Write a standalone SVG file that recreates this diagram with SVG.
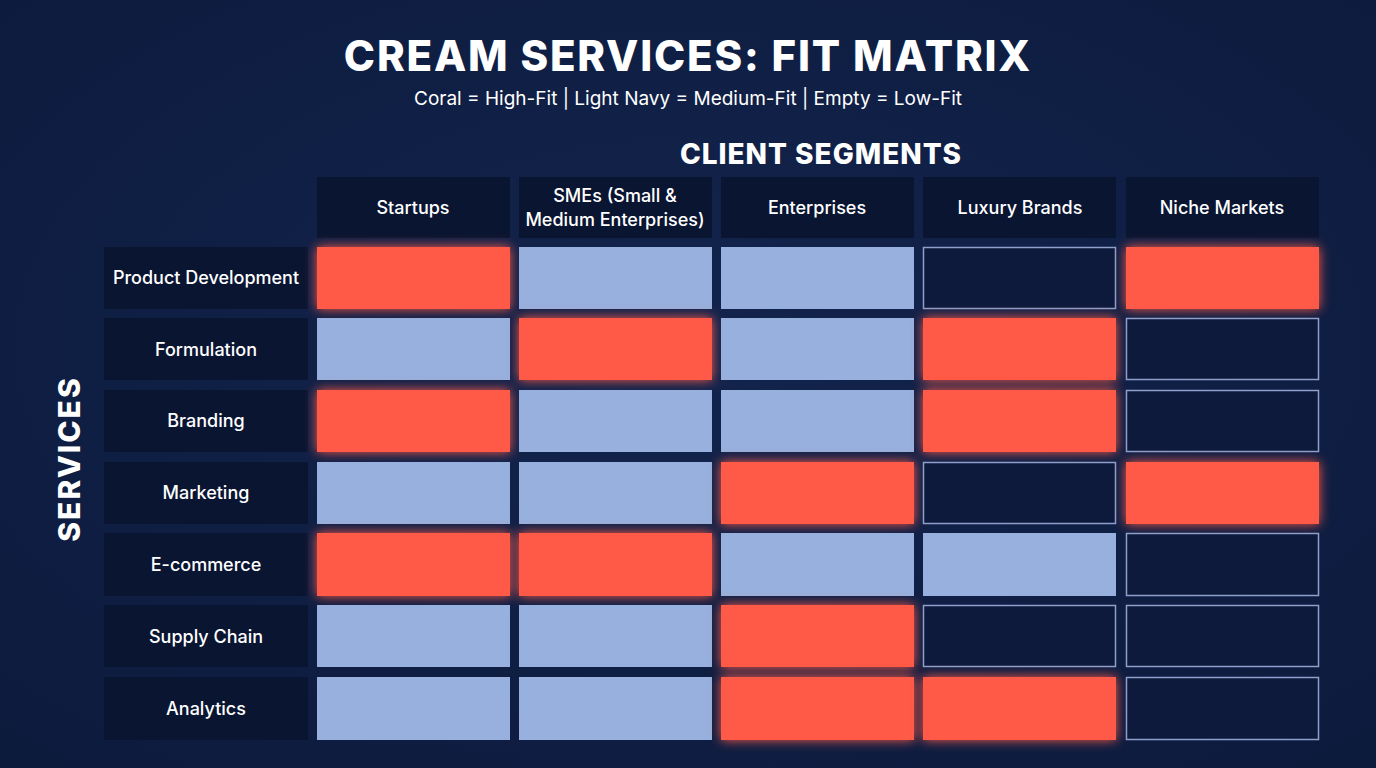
<svg xmlns="http://www.w3.org/2000/svg" width="1376" height="768" viewBox="0 0 1376 768">
<defs>
<radialGradient id="bg" cx="50%" cy="45%" r="75%"><stop offset="0" stop-color="#13244d"/><stop offset="1" stop-color="#0c1a3c"/></radialGradient>
<filter id="glow" x="-20%" y="-30%" width="140%" height="160%"><feGaussianBlur in="SourceGraphic" stdDeviation="6" result="b"/><feMerge><feMergeNode in="b"/><feMergeNode in="SourceGraphic"/></feMerge></filter>
<style>
text{font-family:Inter,"Open Sans","Liberation Sans",sans-serif;fill:#fff}
.t{font-weight:800;font-size:42px;letter-spacing:1.8px}
.s{font-size:19px}
.h{font-weight:800;font-size:28px;letter-spacing:1px}
.v{font-weight:800;font-size:30px;letter-spacing:2px}
.l{font-size:18px;font-weight:500}
.hd{fill:#0a1532}
.c{fill:#ff5a47;filter:url(#glow)}
.m{fill:#97b0de}
.e{fill:#0d1a3c;stroke:#8e9fcb;stroke-width:1.5}
</style>
</defs>
<rect width="1376" height="768" fill="url(#bg)"/>
<text class="t" x="688" y="71" text-anchor="middle">CREAM SERVICES: FIT MATRIX</text>
<text class="s" x="688" y="105" text-anchor="middle">Coral = High-Fit | Light Navy = Medium-Fit | Empty = Low-Fit</text>
<text class="h" x="821" y="164" text-anchor="middle">CLIENT SEGMENTS</text>
<text class="v" transform="translate(80,459) rotate(-90)" text-anchor="middle">SERVICES</text>
<g id="headers">
<rect class="hd" x="317" y="177" width="193" height="61"/><text class="l" x="413" y="214" text-anchor="middle">Startups</text>
<rect class="hd" x="519" y="177" width="193" height="61"/><text class="l" x="615" y="202" text-anchor="middle">SMEs (Small &amp;</text><text class="l" x="615" y="226" text-anchor="middle">Medium Enterprises)</text>
<rect class="hd" x="721" y="177" width="193" height="61"/><text class="l" x="817" y="214" text-anchor="middle">Enterprises</text>
<rect class="hd" x="923" y="177" width="193" height="61"/><text class="l" x="1020" y="214" text-anchor="middle">Luxury Brands</text>
<rect class="hd" x="1126" y="177" width="193" height="61"/><text class="l" x="1222" y="214" text-anchor="middle">Niche Markets</text>
</g>
<g id="rows">
<rect class="hd" x="104" y="247" width="204" height="62"/><text class="l" x="206" y="284" text-anchor="middle">Product Development</text>
<rect class="hd" x="104" y="318" width="204" height="62"/><text class="l" x="206" y="356" text-anchor="middle">Formulation</text>
<rect class="hd" x="104" y="390" width="204" height="62"/><text class="l" x="206" y="427" text-anchor="middle">Branding</text>
<rect class="hd" x="104" y="462" width="204" height="62"/><text class="l" x="206" y="499" text-anchor="middle">Marketing</text>
<rect class="hd" x="104" y="533" width="204" height="63"/><text class="l" x="206" y="571" text-anchor="middle">E-commerce</text>
<rect class="hd" x="104" y="605" width="204" height="62"/><text class="l" x="206" y="643" text-anchor="middle">Supply Chain</text>
<rect class="hd" x="104" y="677" width="204" height="63"/><text class="l" x="206" y="715" text-anchor="middle">Analytics</text>
</g>
<g id="cells">
<rect class="c" x="317" y="247" width="193" height="62"/><rect class="m" x="519" y="247" width="193" height="62"/><rect class="m" x="721" y="247" width="193" height="62"/><rect class="e" x="923.5" y="247.5" width="192" height="61"/><rect class="c" x="1126" y="247" width="193" height="62"/>
<rect class="m" x="317" y="318" width="193" height="62"/><rect class="c" x="519" y="318" width="193" height="62"/><rect class="m" x="721" y="318" width="193" height="62"/><rect class="c" x="923" y="318" width="193" height="62"/><rect class="e" x="1126.5" y="318.5" width="192" height="61"/>
<rect class="c" x="317" y="390" width="193" height="62"/><rect class="m" x="519" y="390" width="193" height="62"/><rect class="m" x="721" y="390" width="193" height="62"/><rect class="c" x="923" y="390" width="193" height="62"/><rect class="e" x="1126.5" y="390.5" width="192" height="61"/>
<rect class="m" x="317" y="462" width="193" height="62"/><rect class="m" x="519" y="462" width="193" height="62"/><rect class="c" x="721" y="462" width="193" height="62"/><rect class="e" x="923.5" y="462.5" width="192" height="61"/><rect class="c" x="1126" y="462" width="193" height="62"/>
<rect class="c" x="317" y="533" width="193" height="63"/><rect class="c" x="519" y="533" width="193" height="63"/><rect class="m" x="721" y="533" width="193" height="63"/><rect class="m" x="923" y="533" width="193" height="63"/><rect class="e" x="1126.5" y="533.5" width="192" height="62"/>
<rect class="m" x="317" y="605" width="193" height="62"/><rect class="m" x="519" y="605" width="193" height="62"/><rect class="c" x="721" y="605" width="193" height="62"/><rect class="e" x="923.5" y="605.5" width="192" height="61"/><rect class="e" x="1126.5" y="605.5" width="192" height="61"/>
<rect class="m" x="317" y="677" width="193" height="63"/><rect class="m" x="519" y="677" width="193" height="63"/><rect class="c" x="721" y="677" width="193" height="63"/><rect class="c" x="923" y="677" width="193" height="63"/><rect class="e" x="1126.5" y="677.5" width="192" height="62"/>
</g>
<g id="connectors"/>
</svg>
